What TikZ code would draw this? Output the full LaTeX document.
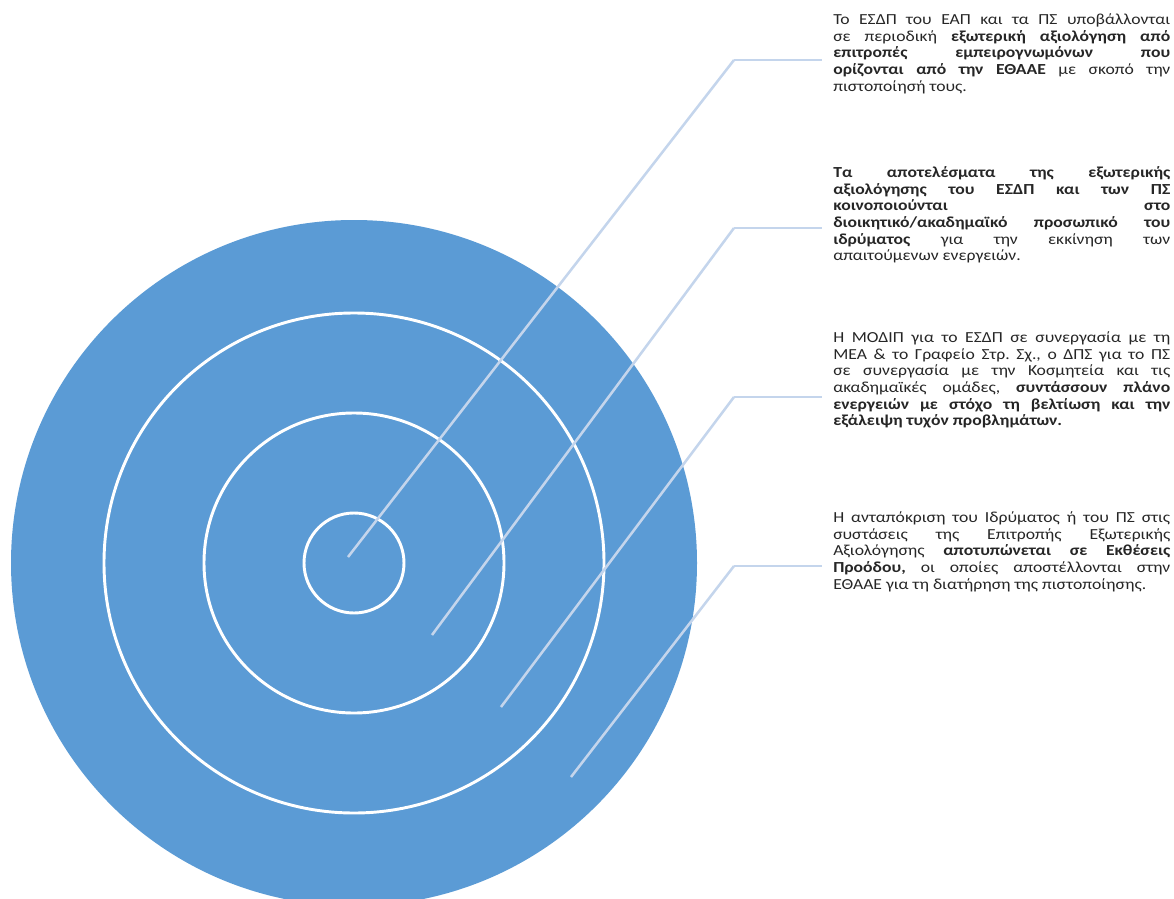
\documentclass[tikz,border=0pt]{standalone}
\usepackage{fontspec}
\setmainfont{Carlito}[FakeStretch=1.15]
\usetikzlibrary{positioning}
\definecolor{ringblue}{HTML}{5B9BD5}
\definecolor{leadblue}{RGB}{196,213,236}
\definecolor{notegray}{HTML}{262626}
\hbadness=10000
\frenchspacing

\begin{document}
\begin{tikzpicture}[x=0.75pt, y=-0.75pt, ring/.style={draw=white, line width=2.2pt}, lead/.style={draw=leadblue, line width=1.9pt}, note/.style={anchor=base west, inner sep=0pt, text width=252.75pt, align=justify, text=notegray, font=\fontsize{11.5}{12.5}\selectfont\frenchspacing}]

            \clip (0,0) rectangle (1174,899);
            \coordinate (O) at (354,563);
            \fill[ringblue] (O) circle[radius=257.25pt];
            \draw[ring] (O) circle[radius=187.5pt];
            \draw[ring] (O) circle[radius=112.5pt];
            \draw[ring] (O) circle[radius=37.5pt];

            \node[note] (t1) at (833,24.5) {Το ΕΣΔΠ του ΕΑΠ και τα ΠΣ υποβάλλονται\linebreak σε περιοδική \textbf{εξωτερική αξιολόγηση από\linebreak επιτροπές εμπειρογνωμόνων που\linebreak ορίζονται από την ΕΘΑΑΕ} με σκοπό την\linebreak πιστοποίησή τους.};
            \node[note] (t2) at (833,177.5) {\textbf{Τα αποτελέσματα της εξωτερικής\linebreak αξιολόγησης του ΕΣΔΠ και των ΠΣ\linebreak κοινοποιούνται στο\linebreak διοικητικό/ακαδημαϊκό προσωπικό του\linebreak ιδρύματος} για την εκκίνηση των\linebreak απαιτούμενων ενεργειών.};
            \node[note] (t3) at (833,342.5) {Η ΜΟΔΙΠ για το ΕΣΔΠ σε συνεργασία με τη\linebreak ΜΕΑ \& το Γραφείο Στρ. Σχ., ο ΔΠΣ για το ΠΣ\linebreak σε συνεργασία με την Κοσμητεία και τις\linebreak ακαδημαϊκές ομάδες, \textbf{συντάσσουν πλάνο\linebreak ενεργειών με στόχο τη βελτίωση και την\linebreak εξάλειψη τυχόν προβλημάτων.}};
            \node[note] (t4) at (833,522.5) {Η ανταπόκριση του Ιδρύματος ή του ΠΣ στις\linebreak συστάσεις της Επιτροπής Εξωτερικής\linebreak Αξιολόγησης \textbf{αποτυπώνεται σε Εκθέσεις\linebreak Προόδου,} οι οποίες αποστέλλονται στην\linebreak ΕΘΑΑΕ για τη διατήρηση της πιστοποίησης.};

            \coordinate (p1) at (348,557);
            \coordinate (p2) at (432,635);
            \coordinate (p3) at (501,707);
            \coordinate (p4) at (571,777);
            \coordinate (k1) at (734,60);
            \coordinate (k2) at (734,228);
            \coordinate (k3) at (734,397);
            \coordinate (k4) at (734,566);
            \coordinate (e1) at (822,60);
            \coordinate (e2) at (822,228);
            \coordinate (e3) at (822,397);
            \coordinate (e4) at (822,566);

            \path[lead]
            (p1) edge (k1) (k1) edge (e1)
            (p2) edge (k2) (k2) edge (e2)
            (p3) edge (k3) (k3) edge (e3)
            (p4) edge (k4) (k4) edge (e4)
            ;

        \end{tikzpicture}
\end{document}
